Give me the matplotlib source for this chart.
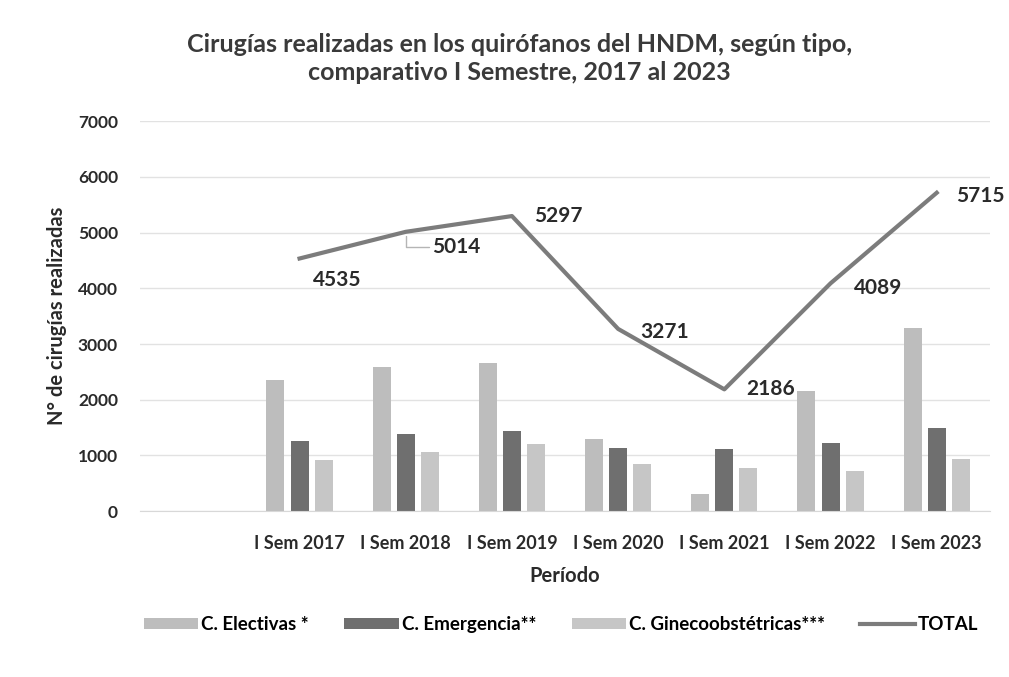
import matplotlib.pyplot as plt
import numpy as np

plt.rcParams['font.family'] = ['Lato', 'DejaVu Sans']

# first slot is empty in the original chart
periods = ['', 'I Sem 2017', 'I Sem 2018', 'I Sem 2019', 'I Sem 2020',
           'I Sem 2021', 'I Sem 2022', 'I Sem 2023']
electivas = [np.nan, 2350, 2580, 2660, 1300, 300, 2150, 3280]
emergencia = [np.nan, 1260, 1380, 1440, 1130, 1110, 1220, 1500]
gineco = [np.nan, 925, 1054, 1197, 841, 776, 719, 935]
total = [np.nan, 4535, 5014, 5297, 3271, 2186, 4089, 5715]

# label offsets (pixels, y up) for the total values
label_off = [None, (38, -21), (50, -15), (46, 0), (46, -3), (46, 0), (48, -5), (44, -3)]

fig = plt.figure(figsize=(10.09, 6.77), dpi=100)
ax = fig.add_axes([0.139, 0.245, 0.842, 0.576])

x = np.arange(len(periods))
w = 0.17
step = 0.227
b1 = ax.bar(x - step, electivas, w, color='#bdbdbd', label='C. Electivas *', zorder=2)
b2 = ax.bar(x, emergencia, w, color='#6f6f6f', label='C. Emergencia**', zorder=2)
b3 = ax.bar(x + step, gineco, w, color='#c6c6c6', label='C. Ginecoobstétricas***', zorder=2)
ln, = ax.plot(x, total, color='#7c7c7c', lw=3, label='TOTAL', zorder=3)

for i, (xi, v, off) in enumerate(zip(x, total, label_off)):
    if off is None:
        continue
    arrow = None
    if i == 2:
        # small leader line like the original data label
        arrow = dict(arrowstyle='-', color='#b5b5b5', lw=1,
                     connectionstyle='angle,angleA=0,angleB=90,rad=0',
                     shrinkA=0, shrinkB=3)
    ax.annotate(f'{v:.0f}', (xi, v), xytext=off, textcoords='offset pixels',
                ha='center', va='center', fontsize=15, fontweight='bold',
                color='#2a2a2a', annotation_clip=False, arrowprops=arrow)

ax.set_xlim(-0.5, len(periods) - 0.5)
ax.set_ylim(0, 7000)
ax.set_yticks(range(0, 7001, 1000))
ax.set_xticks(x)
ax.set_xticklabels(periods, fontsize=13, fontweight='bold', color='#2a2a2a')
for t in ax.get_yticklabels():
    t.set_fontsize(12.5)
    t.set_fontweight('bold')
    t.set_color('#2a2a2a')
ax.tick_params(length=0)
ax.tick_params(axis='x', pad=17)
ax.tick_params(axis='y', pad=16)
ax.grid(axis='y', color='#e2e2e2', lw=1, zorder=0)
for s in ['top', 'right', 'left']:
    ax.spines[s].set_visible(False)
ax.spines['bottom'].set_color('#d8d8d8')

ax.set_ylabel('N° de cirugías realizadas', fontsize=14.5, fontweight='bold',
              color='#2a2a2a', labelpad=8)
ax.set_xlabel('Período', fontsize=14.5, fontweight='bold', color='#2a2a2a', labelpad=10)

fig.text(0.515, 0.914, 'Cirugías realizadas en los quirófanos del HNDM, según tipo,\n'
         'comparativo I Semestre, 2017 al 2023', ha='center', va='center',
         fontsize=18, fontweight='bold', color='#3a3a3a', linespacing=1.25)

fig.legend([b1, b2, b3, ln], [b1.get_label(), b2.get_label(), b3.get_label(), 'TOTAL'],
           loc='center', bbox_to_anchor=(0.556, 0.077), ncol=4, frameon=False,
           handlelength=2.9, handleheight=0.5, handletextpad=0.15, columnspacing=1.9,
           prop={'weight': 'bold', 'size': 13.5})

fig.savefig('out.png', dpi=100, facecolor='white')
